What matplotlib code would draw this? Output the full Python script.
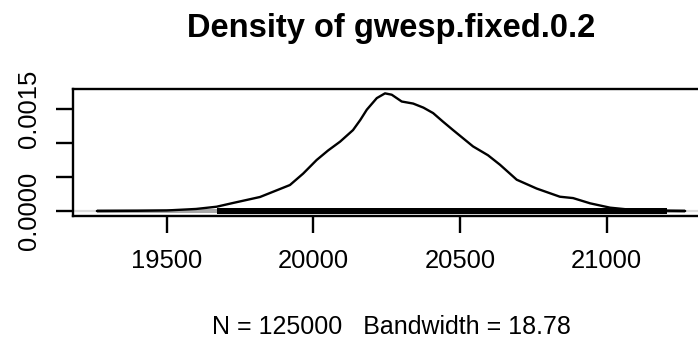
import matplotlib
matplotlib.use('Agg')
import matplotlib.pyplot as plt
import numpy as np

# Kernel density estimate of the gwesp.fixed.0.2 statistic
dens_x = [19262, 19400, 19500, 19600, 19670, 19726, 19818, 19920, 19965,
          20011, 20050, 20091, 20135, 20160, 20182, 20216, 20244, 20267,
          20301, 20340, 20375, 20408, 20440, 20476, 20544, 20595, 20636,
          20693, 20761, 20840, 20885, 20943, 21011, 21090, 21204, 21267]
dens_y = [0.0, 0.000003, 0.000008, 0.00003, 0.000063, 0.000118, 0.000206,
          0.000382, 0.00055, 0.00075, 0.00089, 0.00102, 0.00119, 0.00134,
          0.00149, 0.00166, 0.00173, 0.00171, 0.00161, 0.00158, 0.00152,
          0.00144, 0.00132, 0.00119, 0.00095, 0.00082, 0.00068, 0.00046,
          0.00033, 0.00021, 0.00019, 0.000113, 0.000049, 0.000015,
          0.000004, 0.0]

# Rug of the samples: full extent and the dense core
rug_range = (19262, 21267)
rug_core = (19670, 21204)

n_samples = 125000
bandwidth = 18.78

x_ticks = [19500, 20000, 20500, 21000]
y_ticks = [0.0, 0.0005, 0.0010, 0.0015]
y_labels = ['0.0000', '', '', '0.0015']

plt.rcParams['font.family'] = ['Liberation Sans', 'DejaVu Sans']

W, H = 698, 343
fig = plt.figure(figsize=(W / 100, H / 100), dpi=100)

# axes box in pixels (the right edge runs past the image)
left_px, right_px, top_px, bottom_px = 72.7, 708.5, 89, 216
ax = fig.add_axes([left_px / W, 1 - bottom_px / H,
                   (right_px - left_px) / W, (bottom_px - top_px) / H])

px = 0.0005 / 34  # one pixel in density units
ax.set_xlim(19179.6, 21346.6)
ax.set_ylim(-5 * px, 122 * px)

ax.axhline(0, color='#dcdcdc', lw=1.6, zorder=1)
ax.fill_between(rug_range, -1.5 * px, 2 * px, color='#a9a9a9', lw=0, zorder=2)
ax.fill_between(rug_core, -3 * px, 3 * px, color='black', lw=0, zorder=3)
ax.plot(dens_x, dens_y, color='black', lw=1.7, zorder=4,
        solid_joinstyle='round', solid_capstyle='round')

for side in ['top', 'left', 'bottom', 'right']:
    ax.spines[side].set_linewidth(1.7)
    ax.spines[side].set_color('black')

ax.set_xticks(x_ticks)
ax.set_xticklabels([str(v) for v in x_ticks])
ax.set_yticks(y_ticks)
ax.set_yticklabels(y_labels)
ax.tick_params(axis='both', length=12, width=1.7, labelsize=18.4)
ax.tick_params(axis='x', pad=12)
ax.tick_params(axis='y', pad=11, labelrotation=90)
for lab in ax.get_yticklabels():
    lab.set_verticalalignment('center')

fig.text(391 / W, 1 - 36.7 / H, 'Density of gwesp.fixed.0.2',
         ha='center', va='baseline', fontsize=23.5, fontweight='bold')
fig.text(391 / W, 1 - 334 / H,
         'N = %d   Bandwidth = %.2f' % (n_samples, bandwidth),
         ha='center', va='baseline', fontsize=18)

fig.savefig('out.png', dpi=100)
